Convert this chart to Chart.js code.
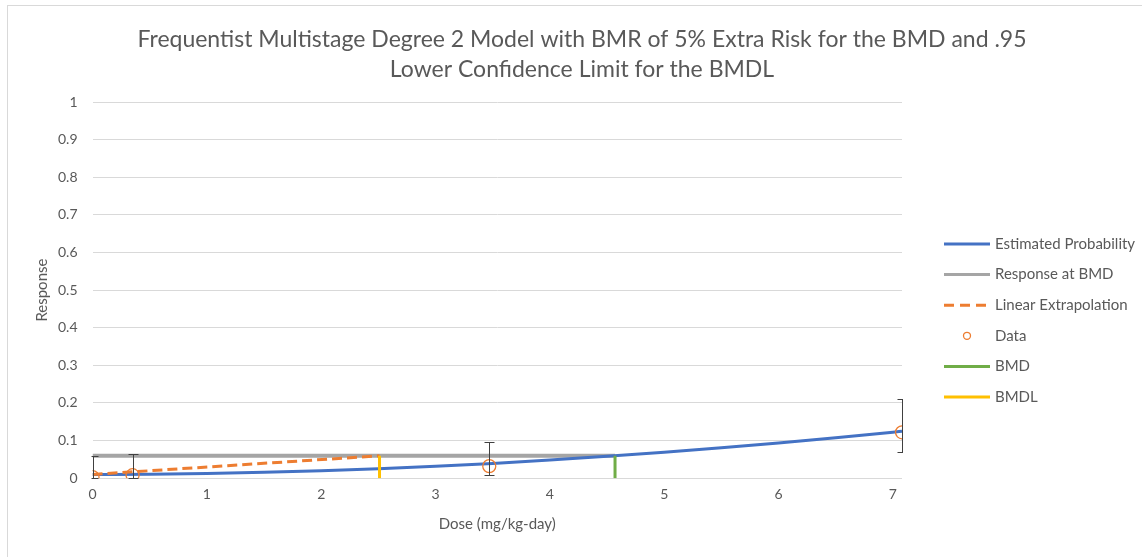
<!DOCTYPE html>
<html>
<head>
<meta charset="utf-8">
<script src="https://cdn.jsdelivr.net/npm/chart.js@4.4.1/dist/chart.umd.min.js"></script>
<style>
  html, body { margin: 0; padding: 0; background: #fff; }
  #wrap { position: absolute; left: 0; top: 0; width: 1142px; height: 557px; }
  #frame { position: absolute; left: 7px; top: 5px; width: 1200px; height: 600px; border-left: 1px solid #d9d9d9; border-top: 1px solid #d9d9d9; pointer-events: none; }
</style>
</head>
<body>
<div id="wrap"><canvas id="c" width="1142" height="557"></canvas></div>
<div id="frame"></div>
<script>
// ---- data ----
const curveDose = [0, 0.5, 1, 1.5, 2, 2.5, 3, 3.5, 4, 4.5, 5, 5.5, 6, 6.5, 7, 7.08];
const curveResp = [0.0100, 0.0106, 0.0124, 0.0155, 0.0197, 0.0251, 0.0317, 0.0394, 0.0482, 0.0581, 0.0690, 0.0809, 0.0938, 0.1076, 0.1223, 0.1248];

const dataDose = [0, 0.35, 3.47, 7.08];
const dataResp = [0.003, 0.008, 0.032, 0.122];
const errLow  = [0.000, 0.000, 0.009, 0.070];
const errHigh = [0.060, 0.064, 0.097, 0.211];

const bmd = 4.57;
const bmdl = 2.51;
const bmrResponse = 0.0595;
const backgroundResp = 0.0100;

const yTicks = [0, 0.1, 0.2, 0.3, 0.4, 0.5, 0.6, 0.7, 0.8, 0.9, 1];
const xTicks = [0, 1, 2, 3, 4, 5, 6, 7];
const xMax = 7.08;

const titleLines = ['Frequentist Multistage Degree 2 Model with BMR of 5% Extra Risk for the BMD and .95', 'Lower Confidence Limit for the BMDL'];
const yTitle = 'Response';

const FONT = 'Lato, "Open Sans", sans-serif';
const TXT = '#595959';

const titlePlugin = {
  id: 'customTitle',
  afterDraw(chart) {
    const ctx = chart.ctx;
    const a = chart.chartArea;
    ctx.save();
    ctx.font = '23px ' + FONT;
    ctx.fillStyle = TXT;
    ctx.textAlign = 'center';
    ctx.textBaseline = 'middle';
    titleLines.forEach((t, i) => ctx.fillText(t, 582, 40 + i * 30));
    ctx.font = '15px ' + FONT;
    ctx.translate(42, (a.top + a.bottom) / 2);
    ctx.rotate(-Math.PI / 2);
    ctx.fillText(yTitle, 0, 0);
    ctx.restore();
  }
};

const errorBarPlugin = {
  id: 'errorBars',
  afterDatasetsDraw(chart) {
    const xs = chart.scales.x, ys = chart.scales.y;
    const a = chart.chartArea;
    const ctx = chart.ctx;
    ctx.save();
    ctx.beginPath();
    ctx.rect(a.left - 1, a.top - 2, a.right - a.left + 2, a.bottom - a.top + 4);
    ctx.clip();
    ctx.strokeStyle = '#404040';
    ctx.lineWidth = 1;
    for (let i = 0; i < dataDose.length; i++) {
      const px = Math.round(xs.getPixelForValue(dataDose[i])) + 0.5;
      const top = Math.round(ys.getPixelForValue(errHigh[i])) + 0.5;
      const bot = Math.round(ys.getPixelForValue(errLow[i])) + 0.5;
      ctx.beginPath();
      ctx.moveTo(px, top); ctx.lineTo(px, bot);
      ctx.moveTo(px - 5, top); ctx.lineTo(px + 5, top);
      ctx.moveTo(px - 5, bot); ctx.lineTo(px + 5, bot);
      ctx.stroke();
    }
    ctx.restore();
  }
};

const legendPlugin = {
  id: 'customLegend',
  afterDraw(chart) {
    const ctx = chart.ctx;
    const a = chart.chartArea;
    const x0 = a.right + 41;
    const y0 = a.top + 142;
    const step = 30.6;
    ctx.save();
    ctx.font = '15px ' + FONT;
    ctx.textBaseline = 'middle';
    chart.data.datasets.forEach((ds, i) => {
      const y = y0 + i * step;
      ctx.save();
      if (ds.showLine === false) {
        ctx.strokeStyle = ds.pointBorderColor;
        ctx.lineWidth = 1.3;
        ctx.beginPath();
        ctx.arc(x0 + 24, y, 3.5, 0, Math.PI * 2);
        ctx.stroke();
      } else {
        ctx.strokeStyle = ds.borderColor;
        ctx.lineWidth = 3;
        ctx.setLineDash(ds.borderDash ? [10, 6] : []);
        ctx.beginPath();
        ctx.moveTo(x0 + 1, y); ctx.lineTo(x0 + 47, y);
        ctx.stroke();
      }
      ctx.restore();
      ctx.fillStyle = TXT;
      ctx.fillText(ds.label, x0 + 52, y);
    });
    ctx.restore();
  }
};

const curvePts = curveDose.map((d, i) => ({x: d, y: curveResp[i]}));
const dataPts = dataDose.map((d, i) => ({x: d, y: dataResp[i]}));

new Chart(document.getElementById('c'), {
  type: 'scatter',
  data: {
    datasets: [
      { label: 'Estimated Probability', data: curvePts, showLine: true, borderColor: '#4472C4', borderWidth: 3, pointRadius: 0, tension: 0.4, cubicInterpolationMode: 'monotone', order: 3 },
      { label: 'Response at BMD', data: [{x: 0, y: bmrResponse}, {x: bmd, y: bmrResponse}], showLine: true, borderColor: '#A5A5A5', borderWidth: 4, pointRadius: 0, order: 4 },
      { label: 'Linear Extrapolation', data: [{x: 0, y: backgroundResp}, {x: bmdl, y: bmrResponse}], showLine: true, borderColor: '#ED7D31', borderWidth: 3, borderDash: [10, 5], pointRadius: 0, order: 2 },
      { label: 'Data', data: dataPts, showLine: false, pointRadius: 6.5, pointBorderWidth: 1.3, pointBorderColor: '#ED7D31', pointBackgroundColor: 'rgba(0,0,0,0)', borderColor: '#ED7D31', order: 0 },
      { label: 'BMD', data: [{x: bmd, y: 0}, {x: bmd, y: bmrResponse}], showLine: true, borderColor: '#70AD47', borderWidth: 3, pointRadius: 0, order: 1 },
      { label: 'BMDL', data: [{x: bmdl, y: 0}, {x: bmdl, y: bmrResponse}], showLine: true, borderColor: '#FFC000', borderWidth: 3, pointRadius: 0, order: 1 }
    ]
  },
  options: {
    responsive: false,
    animation: false,
    events: [],
    layout: { padding: { left: 43, right: 240, top: 102, bottom: 24 } },
    plugins: {
      legend: { display: false },
      tooltip: { enabled: false },
      title: { display: false }
    },
    scales: {
      x: {
        type: 'linear', min: 0, max: xMax,
        afterBuildTicks(axis) { axis.ticks = xTicks.map(v => ({value: v})); },
        grid: { display: false, drawTicks: false },
        border: { display: false },
        ticks: { color: TXT, font: { family: FONT, size: 14 }, padding: 8, maxRotation: 0, callback: v => String(v) },
        title: { display: true, text: 'Dose (mg/kg-day)', color: TXT, font: { family: FONT, size: 15 }, padding: { top: 4, bottom: 0 } }
      },
      y: {
        type: 'linear', min: 0, max: 1,
        afterBuildTicks(axis) { axis.ticks = yTicks.map(v => ({value: v})); },
        grid: { color: '#d9d9d9', lineWidth: 1, drawTicks: false },
        border: { display: false },
        ticks: { color: TXT, font: { family: FONT, size: 14 }, padding: 15, callback: v => String(Math.round(v * 10) / 10) },
        title: { display: false }
      }
    }
  },
  plugins: [errorBarPlugin, legendPlugin, titlePlugin]
});
</script>
</body>
</html>
